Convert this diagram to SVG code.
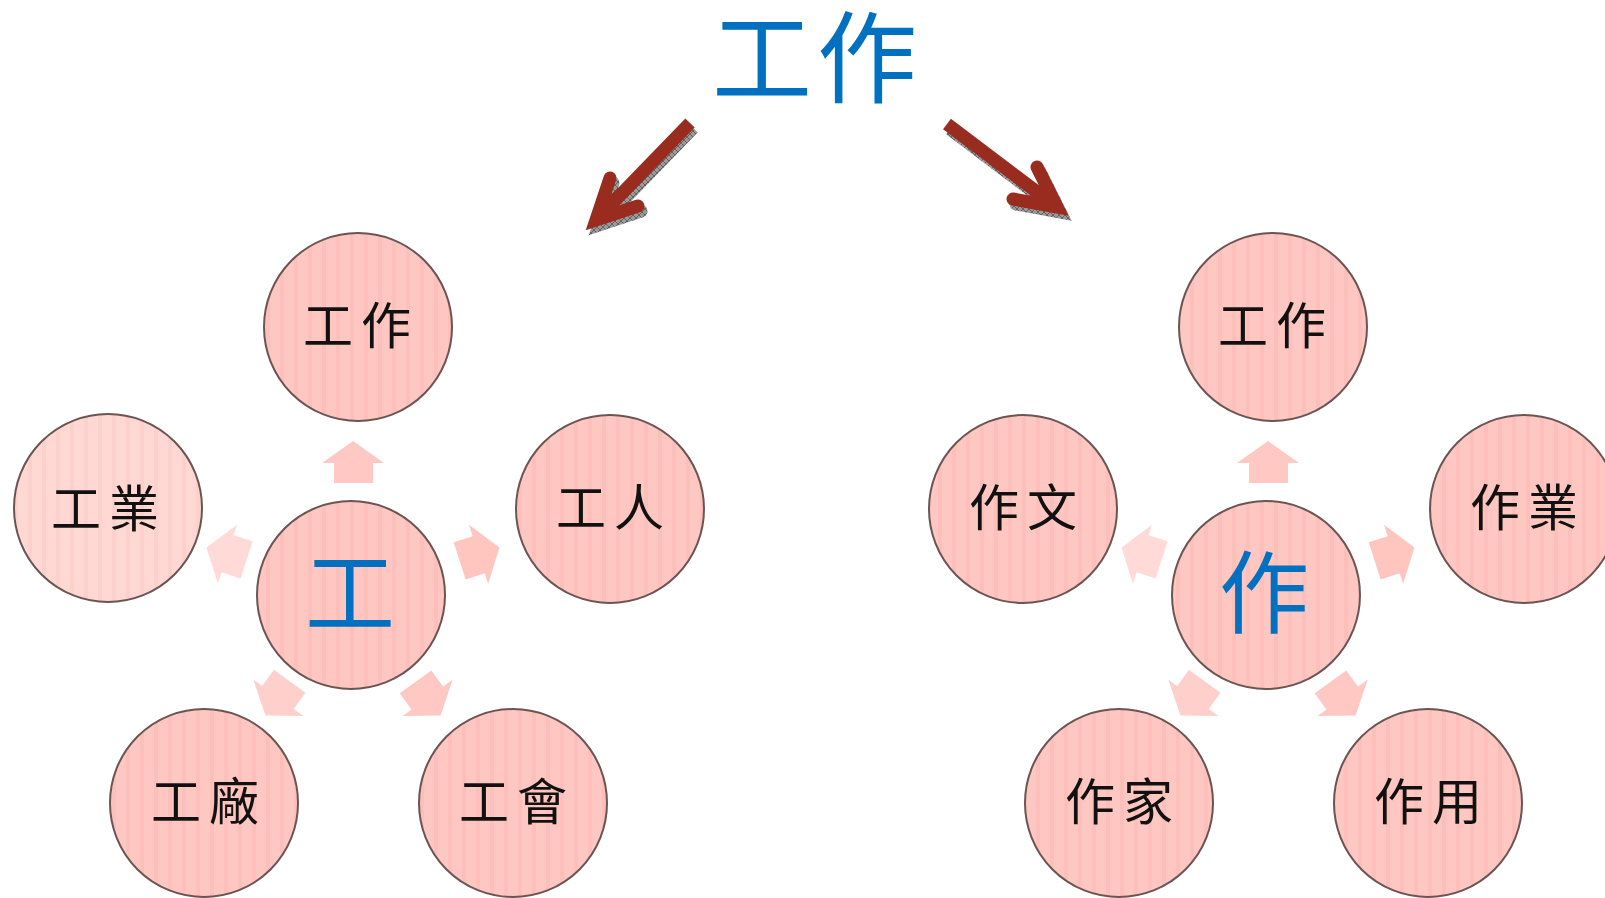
<svg xmlns="http://www.w3.org/2000/svg" width="1605" height="898" viewBox="0 0 1605 898">
<defs>
<style>
.node{stroke:#6a5553;stroke-width:2}
.lbl{font-family:"Noto Sans CJK TC","Noto Sans CJK SC",sans-serif;font-size:50px;fill:#111;text-anchor:middle;letter-spacing:8px}
.hub{font-family:"Noto Sans CJK TC","Noto Sans CJK SC",sans-serif;font-size:90px;fill:#0070C0;text-anchor:middle}
.title{font-family:"Noto Sans CJK TC","Noto Sans CJK SC",sans-serif;font-size:100px;fill:#0070C0;text-anchor:middle;letter-spacing:5px}
.big{fill:none;stroke:#992B1F;stroke-width:13}
.bigsh{fill:none;stroke:url(#hatch);stroke-width:13}
.sa{stroke:none}
</style>
<pattern id="stripe" patternUnits="userSpaceOnUse" width="14" height="10">
<rect width="14" height="10" fill="#FFC7C1"/>
<rect x="0" width="4" height="10" fill="#FBBDB7" opacity="0.7"/>
</pattern>
<pattern id="stripeL" patternUnits="userSpaceOnUse" width="14" height="10">
<rect width="14" height="10" fill="#FFD7D3"/>
<rect x="0" width="4" height="10" fill="#FCCFCA" opacity="0.7"/>
</pattern>
<pattern id="hatch" patternUnits="userSpaceOnUse" width="6" height="6">
<rect width="6" height="6" fill="#9a9a9a"/>
<path d="M0,0 L6,6 M6,0 L0,6" stroke="#555" stroke-width="0.8"/>
</pattern>
<polygon id="sarrow" points="0,-21 31,1 20,1 20,21 -19,21 -19,1 -31,1"/>
</defs>
<rect width="1605" height="898" fill="#ffffff"/>

<g id="title">
<text class="title" x="817" y="95">工作</text>
</g>

<g id="connectors">
<!-- big arrows: shadows -->
<g transform="translate(3,5)">
<path class="bigsh" d="M690,123 L596,220" stroke-linecap="butt"/>
<path class="bigsh" d="M610,178 L596,220 L638,206" stroke-linecap="round" stroke-linejoin="miter"/>
<path class="bigsh" d="M947,124 L1057,207" stroke-linecap="butt"/>
<path class="bigsh" d="M1037,167 L1057,207 L1013,199" stroke-linecap="round" stroke-linejoin="miter"/>
</g>
<path class="big" d="M690,123 L596,220" stroke-linecap="butt"/>
<path class="big" d="M610,178 L596,220 L638,206" stroke-linecap="round" stroke-linejoin="miter"/>
<path class="big" d="M947,124 L1057,207" stroke-linecap="butt"/>
<path class="big" d="M1037,167 L1057,207 L1013,199" stroke-linecap="round" stroke-linejoin="miter"/>

<!-- small block arrows left group -->
<use href="#sarrow" fill="#FFC8C2" transform="translate(353,595) rotate(0) translate(0,-133)"/>
<use href="#sarrow" fill="#FFC5BF" transform="translate(353,595) rotate(72) translate(0,-133)"/>
<use href="#sarrow" fill="#FFC8C2" transform="translate(353,595) rotate(144) translate(0,-128)"/>
<use href="#sarrow" fill="#FFD0CB" transform="translate(353,595) rotate(216) translate(0,-128)"/>
<use href="#sarrow" fill="#FFDAD6" transform="translate(353,595) rotate(288) translate(0,-133)"/>
<!-- small block arrows right group -->
<use href="#sarrow" fill="#FFC8C2" transform="translate(1268,595) rotate(0) translate(0,-133)"/>
<use href="#sarrow" fill="#FFC5BF" transform="translate(1268,595) rotate(72) translate(0,-133)"/>
<use href="#sarrow" fill="#FFC8C2" transform="translate(1268,595) rotate(144) translate(0,-128)"/>
<use href="#sarrow" fill="#FFD0CB" transform="translate(1268,595) rotate(216) translate(0,-128)"/>
<use href="#sarrow" fill="#FFDAD6" transform="translate(1268,595) rotate(288) translate(0,-133)"/>
</g>

<!-- left group -->
<g id="L-top"><circle class="node" cx="358" cy="327" r="94" fill="url(#stripe)"/><text class="lbl" x="361" y="344">工作</text></g>
<g id="L-hub"><circle class="node" cx="351" cy="595" r="94" fill="url(#stripe)"/><text class="hub" x="350" y="626">工</text></g>
<g id="L-ye"><circle class="node" cx="108" cy="508" r="94" fill="url(#stripeL)"/><text class="lbl" x="109" y="527">工業</text></g>
<g id="L-ren"><circle class="node" cx="610" cy="509" r="94" fill="url(#stripe)"/><text class="lbl" x="614" y="526">工人</text></g>
<g id="L-chang"><circle class="node" cx="204" cy="803" r="94" fill="url(#stripe)"/><text class="lbl" x="209" y="820">工廠</text></g>
<g id="L-hui"><circle class="node" cx="513" cy="803" r="94" fill="url(#stripe)"/><text class="lbl" x="517" y="820">工會</text></g>

<!-- right group -->
<g id="R-top"><circle class="node" cx="1273" cy="327" r="94" fill="url(#stripe)"/><text class="lbl" x="1276" y="344">工作</text></g>
<g id="R-hub"><circle class="node" cx="1266" cy="595" r="94" fill="url(#stripe)"/><text class="hub" x="1264" y="626">作</text></g>
<g id="R-wen"><circle class="node" cx="1023" cy="509" r="94" fill="url(#stripe)"/><text class="lbl" x="1027" y="526">作文</text></g>
<g id="R-ye"><circle class="node" cx="1524" cy="509" r="94" fill="url(#stripe)"/><text class="lbl" x="1528" y="526">作業</text></g>
<g id="R-jia"><circle class="node" cx="1119" cy="803" r="94" fill="url(#stripe)"/><text class="lbl" x="1123" y="820">作家</text></g>
<g id="R-yong"><circle class="node" cx="1428" cy="803" r="94" fill="url(#stripe)"/><text class="lbl" x="1432" y="820">作用</text></g>
</svg>
